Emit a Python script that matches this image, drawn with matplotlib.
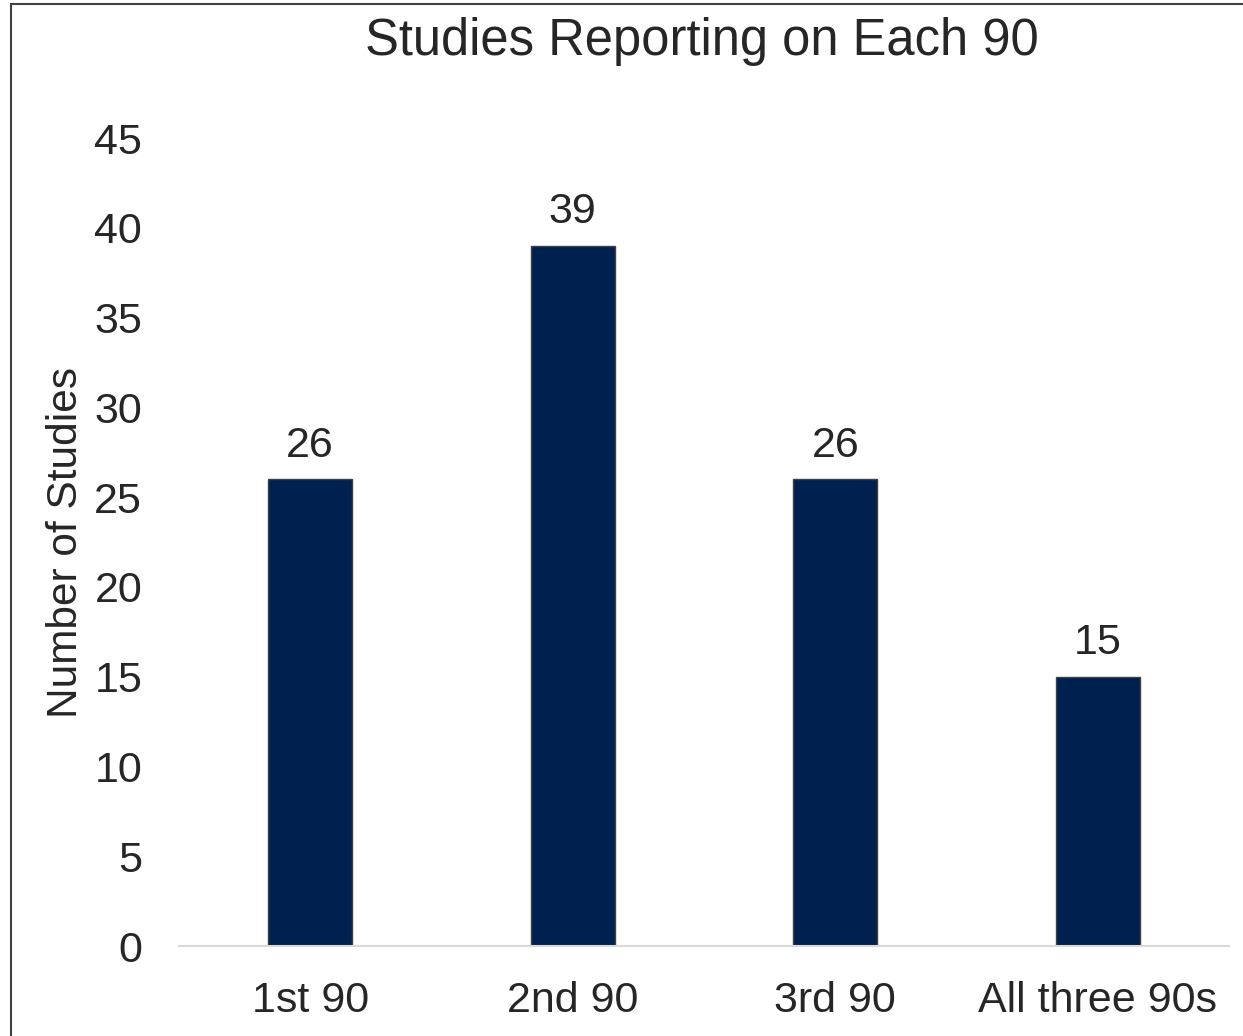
import matplotlib.pyplot as plt
from matplotlib.patches import Rectangle

plt.rcParams['font.family'] = ['Liberation Sans', 'DejaVu Sans']

categories = ['1st 90', '2nd 90', '3rd 90', 'All three 90s']
counts = [26, 39, 26, 15]
yticks = [0, 5, 10, 15, 20, 25, 30, 35, 40, 45]

fig = plt.figure(figsize=(12.43, 10.36), dpi=100)
ax = fig.add_axes([179/1243, 1-946/1036, 1050/1243, 808/1036])

bars = ax.bar(range(len(categories)), counts, width=0.32, color='#00214F',
              edgecolor='#404040', linewidth=1)
for b, v in zip(bars, counts):
    ax.text(b.get_x()+b.get_width()/2, v+0.75, str(v), ha='center', va='bottom',
            fontsize=31, color='#262626')

ax.set_xlim(-0.5, 3.5)
ax.set_ylim(0, 45)
ax.set_yticks(yticks)
ax.set_xticks(range(len(categories)))
ax.set_xticklabels(categories)
ax.tick_params(axis='both', length=0, labelsize=31, labelcolor='#262626')
ax.tick_params(axis='x', pad=25)
ax.tick_params(axis='y', pad=26.5)
for s in ['top', 'right', 'left']:
    ax.spines[s].set_visible(False)
ax.spines['bottom'].set_color('#D9D9D9')
ax.spines['bottom'].set_linewidth(1.5)

ax.set_ylabel('Number of Studies', fontsize=30.5, color='#262626', labelpad=6)
fig.text(702/1243, 1-42/1036, 'Studies Reporting on Each 90', ha='center', va='center',
         fontsize=36.5, color='#262626')

# outer frame
fig.patches.append(Rectangle((11/1243, -0.05), 1.2, 1-4/1036+0.05, transform=fig.transFigure,
                             fill=False, edgecolor='#404040', linewidth=1.5))

fig.savefig('out.png', dpi=100)
